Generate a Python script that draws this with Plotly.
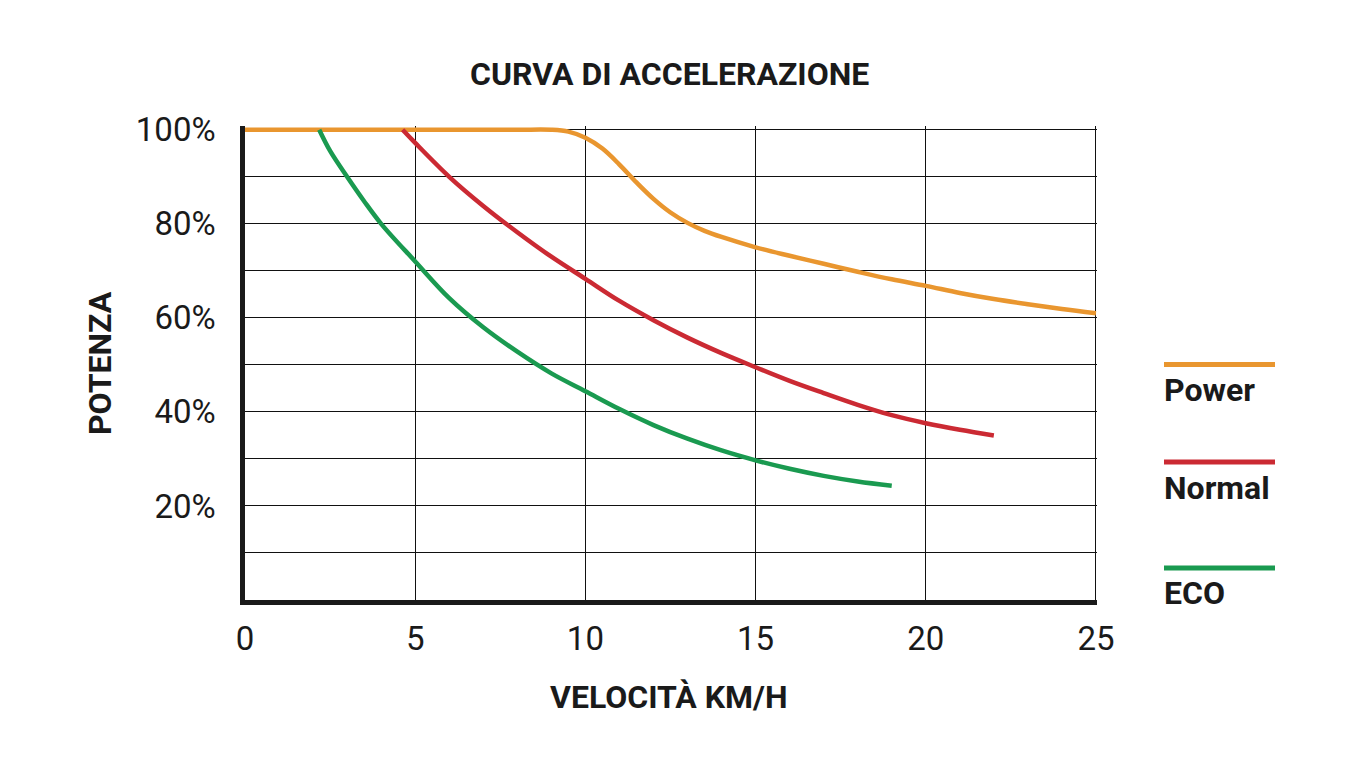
import plotly.graph_objects as go

# ---- data ----
power_x = [0, 3, 6, 8, 9, 9.5, 10, 10.5, 11, 11.5, 12, 12.5, 13, 13.5, 14, 15, 16, 17, 18, 19, 20, 21, 22, 23, 24, 25]
power_y = [100, 100, 100, 100, 100, 99.6, 98.3, 96.0, 92.6, 88.8, 85.3, 82.4, 80.2, 78.5, 77.2, 75.0, 73.2, 71.5, 69.8, 68.2, 66.8, 65.3, 64.0, 62.9, 61.9, 61.0]

normal_x = [4.63, 5, 6, 7, 8, 9, 10, 11, 12, 13, 14, 15, 16, 17, 18, 19, 20, 21, 22]
normal_y = [100, 97.2, 90.0, 83.8, 78.2, 73.0, 68.3, 63.6, 59.5, 55.8, 52.5, 49.5, 46.6, 44.0, 41.5, 39.3, 37.6, 36.2, 35.0]

eco_x = [2.18, 2.5, 3, 3.5, 4, 5, 6, 7, 8, 9, 10, 11, 12, 13, 14, 15, 16, 17, 18, 19]
eco_y = [100, 95.5, 90.0, 84.8, 80.0, 72.0, 64.2, 58.0, 52.8, 48.2, 44.4, 40.6, 37.2, 34.3, 31.8, 29.7, 27.9, 26.4, 25.2, 24.3]

series_names = ["Power", "Normal", "ECO"]
series_colors = ["#E9962F", "#CB2A33", "#1A9A50"]

x_ticks = [0, 5, 10, 15, 20, 25]
y_ticks = [0, 10, 20, 30, 40, 50, 60, 70, 80, 90, 100]
y_ticktext = ["", "", "20%", "", "40%", "", "60%", "", "80%", "", "100%"]

title_text = "CURVA DI ACCELERAZIONE"
x_title = "VELOCITÀ KM/H"
y_title = "POTENZA"

FONT = "Roboto"
W, H = 1349, 759
OFF = 8  # page offset of the figure
L, R, T, B = 245 - OFF, 252 + OFF, 126 - OFF, 159 + OFF
pw = W - L - R
ph = H - T - B


def px_x(px):
    return (px - OFF - L) / pw


def px_y(py):
    return (H - (py - OFF) - B) / ph


fig = go.Figure()
for name, xs, ys, col in zip(series_names,
                             [power_x, normal_x, eco_x],
                             [power_y, normal_y, eco_y],
                             series_colors):
    fig.add_trace(go.Scatter(x=xs, y=ys, mode="lines", name=name,
                             line=dict(color=col, width=4.5, shape="spline", smoothing=1.0),
                             showlegend=False, hoverinfo="x+y+name"))

fig.update_layout(
    width=W, height=H,
    margin=dict(l=L, r=R, t=T, b=B),
    paper_bgcolor="white", plot_bgcolor="white",
    font=dict(family=FONT, color="#1a1a1a"),
    xaxis=dict(range=[0, 25.03], tickvals=x_ticks, ticktext=[str(v) for v in x_ticks],
               showgrid=True, gridcolor="#111111", gridwidth=1.2,
               showline=True, linecolor="#1a1a1a", linewidth=4.5,
               ticks="", ticklabelstandoff=6, zeroline=False,
               tickfont=dict(size=33, family=FONT, color="#1a1a1a")),
    yaxis=dict(range=[0, 100.8], tickvals=y_ticks, ticktext=y_ticktext,
               showgrid=True, gridcolor="#111111", gridwidth=1.2,
               showline=True, linecolor="#1a1a1a", linewidth=4.5,
               ticks="", ticklabelstandoff=18, zeroline=False,
               tickfont=dict(size=33, family=FONT, color="#1a1a1a")),
)

bold_font = dict(size=32, family=FONT, color="#1a1a1a")
annotations = [
    dict(text="<b>%s</b>" % title_text, x=px_x(669), y=px_y(74)),
    dict(text="<b>%s</b>" % x_title, x=px_x(669), y=px_y(697)),
    dict(text="<b>%s</b>" % y_title, x=px_x(100), y=px_y(363), textangle=-90),
]
for a in annotations:
    a.update(xref="paper", yref="paper", xanchor="center", yanchor="middle",
             showarrow=False, font=bold_font)

# custom legend: coloured line above label
legend_line_y = [364.5, 462, 568]
legend_text_y = [390, 488, 593]
shapes = []
for name, col, ly, ty in zip(series_names, series_colors, legend_line_y, legend_text_y):
    shapes.append(dict(type="line", xref="paper", yref="paper",
                       x0=px_x(1164), x1=px_x(1275), y0=px_y(ly), y1=px_y(ly),
                       line=dict(color=col, width=5)))
    annotations.append(dict(text="<b>%s</b>" % name, xref="paper", yref="paper",
                            x=px_x(1162), y=px_y(ty),
                            xanchor="left", yanchor="middle", showarrow=False,
                            font=bold_font))

fig.update_layout(annotations=annotations, shapes=shapes)
fig.write_html("out.html")
